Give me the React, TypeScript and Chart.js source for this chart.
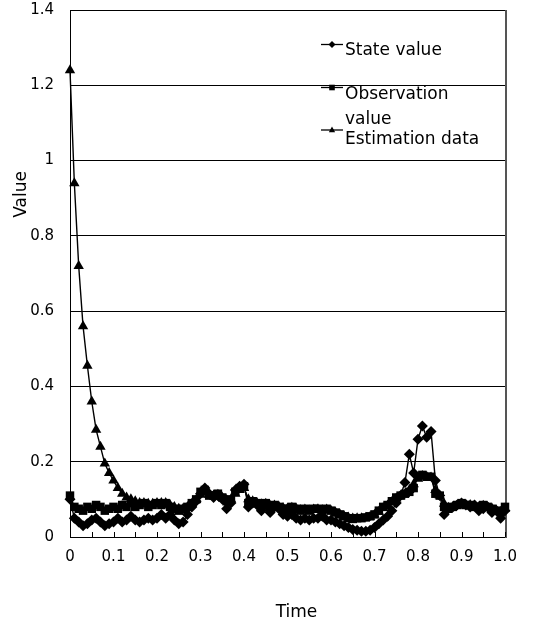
import React, { useEffect, useRef } from "react";
import { Chart, registerables } from "chart.js";

Chart.register(...registerables);

// ---- data ----
const timeValues = [
  0, 0.01, 0.02, 0.03, 0.04, 0.05, 0.06, 0.07, 0.08, 0.09,
  0.1, 0.11, 0.12, 0.13, 0.14, 0.15, 0.16, 0.17, 0.18, 0.19,
  0.2, 0.21, 0.22, 0.23, 0.24, 0.25, 0.26, 0.27, 0.28, 0.29,
  0.3, 0.31, 0.32, 0.33, 0.34, 0.35, 0.36, 0.37, 0.38, 0.39,
  0.4, 0.41, 0.42, 0.43, 0.44, 0.45, 0.46, 0.47, 0.48, 0.49,
  0.5, 0.51, 0.52, 0.53, 0.54, 0.55, 0.56, 0.57, 0.58, 0.59,
  0.6, 0.61, 0.62, 0.63, 0.64, 0.65, 0.66, 0.67, 0.68, 0.69,
  0.7, 0.71, 0.72, 0.73, 0.74, 0.75, 0.76, 0.77, 0.78, 0.79,
  0.8, 0.81, 0.82, 0.83, 0.84, 0.85, 0.86, 0.87, 0.88, 0.89,
  0.9, 0.91, 0.92, 0.93, 0.94, 0.95, 0.96, 0.97, 0.98, 0.99,
  1.0,
];

const stateValues = [
  0.1, 0.05, 0.04, 0.03, 0.035, 0.045, 0.05, 0.04, 0.03, 0.035,
  0.04, 0.05, 0.04, 0.045, 0.055, 0.045, 0.04, 0.045, 0.05, 0.045,
  0.05, 0.06, 0.05, 0.06, 0.045, 0.035, 0.04, 0.06, 0.08, 0.095,
  0.115, 0.13, 0.115, 0.105, 0.11, 0.1, 0.075, 0.09, 0.125, 0.135,
  0.14, 0.08, 0.09, 0.085, 0.07, 0.085, 0.065, 0.08, 0.075, 0.06,
  0.055, 0.06, 0.05, 0.045, 0.05, 0.045, 0.05, 0.05, 0.055, 0.045,
  0.045, 0.04, 0.035, 0.03, 0.025, 0.02, 0.018, 0.015, 0.015, 0.018,
  0.025, 0.035, 0.045, 0.055, 0.07, 0.09, 0.11, 0.145, 0.22, 0.17,
  0.26, 0.295, 0.265, 0.28, 0.15, 0.11, 0.06, 0.075, 0.08, 0.085,
  0.09, 0.085, 0.08, 0.085, 0.07, 0.075, 0.08, 0.065, 0.07, 0.05,
  0.07,
];

const observationValues = [
  0.11, 0.08, 0.075, 0.07, 0.08, 0.075, 0.085, 0.08, 0.07, 0.075,
  0.08, 0.075, 0.085, 0.08, 0.09, 0.08, 0.085, 0.09, 0.08, 0.085,
  0.09, 0.085, 0.09, 0.08, 0.075, 0.07, 0.075, 0.08, 0.09, 0.1,
  0.12, 0.125, 0.11, 0.11, 0.115, 0.105, 0.095, 0.1, 0.12, 0.13,
  0.135, 0.09, 0.095, 0.09, 0.085, 0.09, 0.08, 0.085, 0.08, 0.075,
  0.075, 0.08, 0.075, 0.07, 0.075, 0.07, 0.075, 0.075, 0.07, 0.075,
  0.07, 0.065, 0.06, 0.055, 0.05, 0.048, 0.05, 0.05, 0.052, 0.055,
  0.06, 0.07, 0.08, 0.085, 0.095, 0.105, 0.11, 0.115, 0.12, 0.13,
  0.16, 0.165, 0.16, 0.16, 0.115, 0.11, 0.08, 0.075, 0.08, 0.085,
  0.09, 0.085, 0.085, 0.08, 0.08, 0.085, 0.08, 0.075, 0.07, 0.065,
  0.08,
];

const estimationValues = [
  1.24, 0.94, 0.72, 0.56, 0.455, 0.36, 0.285, 0.24, 0.195, 0.17,
  0.15, 0.13, 0.115, 0.105, 0.1, 0.095, 0.09, 0.09, 0.088, 0.088,
  0.09, 0.09, 0.09, 0.085, 0.08, 0.075, 0.075, 0.08, 0.088, 0.098,
  0.112, 0.12, 0.112, 0.11, 0.112, 0.105, 0.098, 0.1, 0.115, 0.125,
  0.13, 0.1, 0.095, 0.09, 0.087, 0.088, 0.083, 0.084, 0.081, 0.077,
  0.076, 0.078, 0.076, 0.072, 0.073, 0.071, 0.073, 0.074, 0.072, 0.073,
  0.07, 0.066, 0.061, 0.056, 0.052, 0.049, 0.05, 0.05, 0.051, 0.054,
  0.059, 0.067, 0.077, 0.084, 0.093, 0.102, 0.108, 0.114, 0.125, 0.14,
  0.155, 0.162, 0.16, 0.158, 0.125, 0.11, 0.088, 0.078, 0.08, 0.084,
  0.088, 0.086, 0.085, 0.081, 0.08, 0.083, 0.08, 0.076, 0.071, 0.067,
  0.076,
];

const seriesLabels = ["State value", "Observation value", "Estimation data"];
const xTitle = "Time";
const yTitle = "Value";
const xMin = 0;
const xMax = 1;
const xLabelStep = 0.1;
const xMarkStep = 0.05;
const yMin = 0;
const yMax = 1.4;
const yStep = 0.2;

const FONT = "'DejaVu Sans', sans-serif";

function toPoints(values: number[]) {
  return values.map((v, i) => ({ x: timeValues[i], y: v }));
}

type MarkerKind = "diamond" | "square" | "triangle";

function drawMarker(ctx: CanvasRenderingContext2D, kind: MarkerKind, x: number, y: number, r: number) {
  ctx.beginPath();
  if (kind === "diamond") {
    ctx.moveTo(x, y - r);
    ctx.lineTo(x + r, y);
    ctx.lineTo(x, y + r);
    ctx.lineTo(x - r, y);
  } else if (kind === "square") {
    ctx.rect(x - r * 0.8, y - r * 0.8, r * 1.6, r * 1.6);
  } else {
    ctx.moveTo(x, y - r);
    ctx.lineTo(x + r * 0.9, y + r * 0.65);
    ctx.lineTo(x - r * 0.9, y + r * 0.65);
  }
  ctx.closePath();
  ctx.fill();
}

const decorPlugin = {
  id: "decor",
  beforeDatasetsDraw(chart: any) {
    const { ctx, chartArea, scales } = chart;
    const { left, right, top, bottom } = chartArea;
    ctx.save();
    ctx.strokeStyle = "#000";
    ctx.lineWidth = 1;
    ctx.strokeRect(Math.round(left) + 0.5, Math.round(top) + 0.5, Math.round(right - left), Math.round(bottom - top));
    ctx.strokeStyle = "#555";
    ctx.lineWidth = 2;
    ctx.beginPath();
    ctx.moveTo(Math.round(right) + 1, top);
    ctx.lineTo(Math.round(right) + 1, bottom + 1);
    ctx.stroke();
    // inward tick marks on x axis
    ctx.strokeStyle = "#000";
    ctx.lineWidth = 1;
    const x = scales.x;
    const n = Math.round((xMax - xMin) / xMarkStep);
    ctx.beginPath();
    for (let i = 0; i <= n; i++) {
      const px = Math.round(x.getPixelForValue(xMin + i * xMarkStep)) + 0.5;
      ctx.moveTo(px, bottom);
      ctx.lineTo(px, bottom - 5);
    }
    ctx.stroke();
    ctx.restore();
  },
  afterDraw(chart: any) {
    const { ctx, chartArea } = chart;
    const { left, right, top, bottom } = chartArea;
    ctx.save();
    ctx.fillStyle = "#000";
    ctx.strokeStyle = "#000";
    // axis titles
    ctx.font = `17px ${FONT}`;
    ctx.textAlign = "center";
    ctx.textBaseline = "middle";
    ctx.fillText(xTitle, (left + right) / 2 + 9, 613);
    ctx.save();
    ctx.translate(22, top + (bottom - top) * 0.35);
    ctx.rotate(-Math.PI / 2);
    ctx.fillText(yTitle, 0, 0);
    ctx.restore();

    // legend
    const kinds: MarkerKind[] = ["diamond", "square", "triangle"];
    const markerYs = [44.5, 87.5, 130];
    const baselines = [55, 98.5, 143.5];
    const lineGap = 25;
    const lx0 = 321;
    const lx1 = 343;
    const tx = 345;
    ctx.font = `17px ${FONT}`;
    ctx.textAlign = "left";
    ctx.textBaseline = "alphabetic";
    seriesLabels.forEach((label, i) => {
      const my = markerYs[i];
      ctx.lineWidth = 1.3;
      ctx.beginPath();
      ctx.moveTo(lx0, my);
      ctx.lineTo(lx1, my);
      ctx.stroke();
      drawMarker(ctx, kinds[i], (lx0 + lx1) / 2, my, 3.5);
      const maxW = 145;
      const words = label.split(" ");
      const lines: string[] = [];
      let cur = "";
      for (const w of words) {
        const t = cur ? cur + " " + w : w;
        if (ctx.measureText(t).width > maxW && cur) {
          lines.push(cur);
          cur = w;
        } else cur = t;
      }
      if (cur) lines.push(cur);
      lines.forEach((ln, k) => ctx.fillText(ln, tx, baselines[i] + k * lineGap));
    });
    ctx.restore();
  },
};

export default function App() {
  const ref = useRef<HTMLCanvasElement>(null);

  useEffect(() => {
    if (!ref.current) return;
    const common = {
      borderColor: "#000",
      backgroundColor: "#000",
      pointBackgroundColor: "#000",
      pointBorderColor: "#000",
      borderWidth: 1.4,
      pointBorderWidth: 0,
      tension: 0,
      clip: false as const,
      showLine: true,
    };
    const chart = new Chart(ref.current, {
      type: "scatter",
      data: {
        datasets: [
          { ...common, label: seriesLabels[0], data: toPoints(stateValues), pointStyle: "rectRot", pointRadius: 5.5, order: 3 },
          { ...common, label: seriesLabels[1], data: toPoints(observationValues), pointStyle: "rect", pointRadius: 6, order: 2 },
          { ...common, label: seriesLabels[2], data: toPoints(estimationValues), pointStyle: "triangle", pointRadius: 6, order: 1 },
        ],
      },
      options: {
        animation: false,
        responsive: true,
        maintainAspectRatio: false,
        layout: { autoPadding: false, padding: { top: 10, right: 30, left: 0, bottom: 0 } },
        plugins: { legend: { display: false }, tooltip: { enabled: false } },
        scales: {
          x: {
            type: "linear",
            min: xMin,
            max: xMax,
            grid: { display: false, drawTicks: false },
            border: { display: true, color: "#000", width: 1 },
            ticks: {
              stepSize: xLabelStep,
              autoSkip: false,
              maxRotation: 0,
              padding: 11,
              color: "#000",
              font: { family: FONT, size: 15 },
              callback: (v: any) => (Number(v) === 0 ? "0" : Number(v).toFixed(1)),
            },
            afterFit: (s: any) => {
              s.height = 91;
              s.paddingLeft = 0;
              s.paddingRight = 0;
            },
          },
          y: {
            type: "linear",
            min: yMin,
            max: yMax,
            grid: { color: "#000", lineWidth: 1, drawTicks: false },
            border: { display: true, color: "#000", width: 1 },
            ticks: {
              stepSize: yStep,
              padding: 16,
              color: "#000",
              font: { family: FONT, size: 15 },
              callback: (v: any) => String(Number(Number(v).toFixed(1))),
            },
            afterFit: (s: any) => {
              s.width = 70;
              s.paddingTop = 0;
              s.paddingBottom = 0;
            },
          },
        },
      },
      plugins: [decorPlugin],
    });
    return () => chart.destroy();
  }, []);

  return (
    <div style={{ position: "fixed", left: 0, top: 0, width: 535, height: 628, background: "#fff" }}>
      <canvas ref={ref} />
    </div>
  );
}
